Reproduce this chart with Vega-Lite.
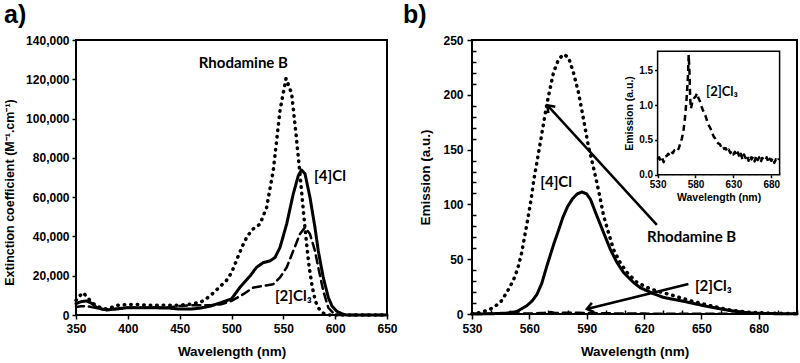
{
  "$schema": "https://vega.github.io/schema/vega-lite/v6.json",
  "background": "white",
  "padding": {"left": 2, "top": 2, "right": 0, "bottom": 0},
  "config": {
    "view": {"stroke": "black", "strokeWidth": 2},
    "axis": {"labelFont": "Liberation Sans", "labelFontWeight": "bold", "labelFontSize": 12, "labelColor": "black", "titleFont": "Liberation Sans", "titleFontWeight": "bold", "titleFontSize": 13.5, "titleColor": "black", "grid": false, "domain": false, "tickColor": "black", "tickWidth": 1.5, "labelOverlap": false, "labelBound": false, "labelFlush": false},
    "title": {"font": "Liberation Sans", "fontSize": 25, "fontWeight": "bold", "color": "black", "anchor": "start", "frame": "group", "baseline": "alphabetic"}
  },
  "datasets": {
    "abs": [
      {"wl": 350, "eps": 7500, "s": "Rhodamine B"}, {"wl": 353, "eps": 9500, "s": "Rhodamine B"}, {"wl": 357, "eps": 11400, "s": "Rhodamine B"}, {"wl": 360, "eps": 9500, "s": "Rhodamine B"}, {"wl": 365, "eps": 6500, "s": "Rhodamine B"}, {"wl": 370, "eps": 4500, "s": "Rhodamine B"}, {"wl": 375, "eps": 3500, "s": "Rhodamine B"}, {"wl": 380, "eps": 3000, "s": "Rhodamine B"}, {"wl": 385, "eps": 4000, "s": "Rhodamine B"}, {"wl": 390, "eps": 5000, "s": "Rhodamine B"}, {"wl": 400, "eps": 5300, "s": "Rhodamine B"}, {"wl": 410, "eps": 5300, "s": "Rhodamine B"}, {"wl": 420, "eps": 5000, "s": "Rhodamine B"}, {"wl": 430, "eps": 5000, "s": "Rhodamine B"}, {"wl": 440, "eps": 5000, "s": "Rhodamine B"}, {"wl": 450, "eps": 5000, "s": "Rhodamine B"}, {"wl": 460, "eps": 5500, "s": "Rhodamine B"}, {"wl": 470, "eps": 6500, "s": "Rhodamine B"}, {"wl": 475, "eps": 8000, "s": "Rhodamine B"}, {"wl": 480, "eps": 10000, "s": "Rhodamine B"}, {"wl": 485, "eps": 12500, "s": "Rhodamine B"}, {"wl": 490, "eps": 15000, "s": "Rhodamine B"}, {"wl": 495, "eps": 17500, "s": "Rhodamine B"}, {"wl": 500, "eps": 21500, "s": "Rhodamine B"}, {"wl": 506.6, "eps": 30150, "s": "Rhodamine B"}, {"wl": 510, "eps": 34500, "s": "Rhodamine B"}, {"wl": 514.6, "eps": 39500, "s": "Rhodamine B"}, {"wl": 520, "eps": 43500, "s": "Rhodamine B"}, {"wl": 527.5, "eps": 46300, "s": "Rhodamine B"}, {"wl": 533.9, "eps": 54800, "s": "Rhodamine B"}, {"wl": 540.3, "eps": 73600, "s": "Rhodamine B"}, {"wl": 546.8, "eps": 104200, "s": "Rhodamine B"}, {"wl": 552.6, "eps": 120400, "s": "Rhodamine B"}, {"wl": 558, "eps": 112800, "s": "Rhodamine B"}, {"wl": 562.2, "eps": 92300, "s": "Rhodamine B"}, {"wl": 566, "eps": 72000, "s": "Rhodamine B"}, {"wl": 569.5, "eps": 52000, "s": "Rhodamine B"}, {"wl": 572.5, "eps": 36000, "s": "Rhodamine B"}, {"wl": 575, "eps": 24000, "s": "Rhodamine B"}, {"wl": 578, "eps": 14000, "s": "Rhodamine B"}, {"wl": 581, "eps": 7000, "s": "Rhodamine B"}, {"wl": 584, "eps": 3500, "s": "Rhodamine B"}, {"wl": 587, "eps": 1500, "s": "Rhodamine B"}, {"wl": 590, "eps": 500, "s": "Rhodamine B"}, {"wl": 595, "eps": 0, "s": "Rhodamine B"}, {"wl": 620, "eps": 0, "s": "Rhodamine B"}, {"wl": 650, "eps": 0, "s": "Rhodamine B"},
      {"wl": 350, "eps": 5800, "s": "[4]Cl"}, {"wl": 355, "eps": 6800, "s": "[4]Cl"}, {"wl": 360, "eps": 7150, "s": "[4]Cl"}, {"wl": 365, "eps": 6000, "s": "[4]Cl"}, {"wl": 370, "eps": 3750, "s": "[4]Cl"}, {"wl": 375, "eps": 3000, "s": "[4]Cl"}, {"wl": 380, "eps": 2600, "s": "[4]Cl"}, {"wl": 390, "eps": 3200, "s": "[4]Cl"}, {"wl": 400, "eps": 3750, "s": "[4]Cl"}, {"wl": 420, "eps": 3750, "s": "[4]Cl"}, {"wl": 440, "eps": 3500, "s": "[4]Cl"}, {"wl": 450, "eps": 3000, "s": "[4]Cl"}, {"wl": 460, "eps": 3000, "s": "[4]Cl"}, {"wl": 470, "eps": 3500, "s": "[4]Cl"}, {"wl": 480, "eps": 4600, "s": "[4]Cl"}, {"wl": 490, "eps": 6300, "s": "[4]Cl"}, {"wl": 500, "eps": 8200, "s": "[4]Cl"}, {"wl": 508, "eps": 14000, "s": "[4]Cl"}, {"wl": 513, "eps": 17000, "s": "[4]Cl"}, {"wl": 518, "eps": 19900, "s": "[4]Cl"}, {"wl": 524, "eps": 24200, "s": "[4]Cl"}, {"wl": 530.7, "eps": 26700, "s": "[4]Cl"}, {"wl": 537, "eps": 27500, "s": "[4]Cl"}, {"wl": 542, "eps": 29300, "s": "[4]Cl"}, {"wl": 546.8, "eps": 34400, "s": "[4]Cl"}, {"wl": 553.2, "eps": 46300, "s": "[4]Cl"}, {"wl": 559.6, "eps": 61700, "s": "[4]Cl"}, {"wl": 564.5, "eps": 71000, "s": "[4]Cl"}, {"wl": 567.5, "eps": 73800, "s": "[4]Cl"}, {"wl": 570.9, "eps": 71900, "s": "[4]Cl"}, {"wl": 575.7, "eps": 59900, "s": "[4]Cl"}, {"wl": 580.5, "eps": 44600, "s": "[4]Cl"}, {"wl": 583.7, "eps": 32700, "s": "[4]Cl"}, {"wl": 588.5, "eps": 19100, "s": "[4]Cl"}, {"wl": 593.4, "eps": 8900, "s": "[4]Cl"}, {"wl": 597, "eps": 4500, "s": "[4]Cl"}, {"wl": 601.4, "eps": 2000, "s": "[4]Cl"}, {"wl": 606, "eps": 700, "s": "[4]Cl"}, {"wl": 611, "eps": 0, "s": "[4]Cl"}, {"wl": 650, "eps": 0, "s": "[4]Cl"},
      {"wl": 350, "eps": 4100, "s": "[2]Cl3"}, {"wl": 355, "eps": 4400, "s": "[2]Cl3"}, {"wl": 360, "eps": 4600, "s": "[2]Cl3"}, {"wl": 365, "eps": 4000, "s": "[2]Cl3"}, {"wl": 370, "eps": 3500, "s": "[2]Cl3"}, {"wl": 380, "eps": 2600, "s": "[2]Cl3"}, {"wl": 390, "eps": 3000, "s": "[2]Cl3"}, {"wl": 400, "eps": 3750, "s": "[2]Cl3"}, {"wl": 420, "eps": 3750, "s": "[2]Cl3"}, {"wl": 440, "eps": 3900, "s": "[2]Cl3"}, {"wl": 450, "eps": 4600, "s": "[2]Cl3"}, {"wl": 460, "eps": 5000, "s": "[2]Cl3"}, {"wl": 470, "eps": 5000, "s": "[2]Cl3"}, {"wl": 480, "eps": 5000, "s": "[2]Cl3"}, {"wl": 490, "eps": 5450, "s": "[2]Cl3"}, {"wl": 500, "eps": 7150, "s": "[2]Cl3"}, {"wl": 511.4, "eps": 10600, "s": "[2]Cl3"}, {"wl": 521, "eps": 13950, "s": "[2]Cl3"}, {"wl": 530.7, "eps": 14800, "s": "[2]Cl3"}, {"wl": 540.3, "eps": 15700, "s": "[2]Cl3"}, {"wl": 546.8, "eps": 19100, "s": "[2]Cl3"}, {"wl": 553.2, "eps": 24200, "s": "[2]Cl3"}, {"wl": 559.6, "eps": 32700, "s": "[2]Cl3"}, {"wl": 566, "eps": 41200, "s": "[2]Cl3"}, {"wl": 570.9, "eps": 44600, "s": "[2]Cl3"}, {"wl": 575.7, "eps": 41200, "s": "[2]Cl3"}, {"wl": 580.5, "eps": 32700, "s": "[2]Cl3"}, {"wl": 583.7, "eps": 24200, "s": "[2]Cl3"}, {"wl": 588.5, "eps": 12300, "s": "[2]Cl3"}, {"wl": 593.4, "eps": 3700, "s": "[2]Cl3"}, {"wl": 598.2, "eps": 1000, "s": "[2]Cl3"}, {"wl": 603, "eps": 0, "s": "[2]Cl3"}, {"wl": 650, "eps": 0, "s": "[2]Cl3"}
    ],
    "em": [
      {"wl": 530, "em": 0.3, "s": "Rhodamine B"}, {"wl": 535, "em": 1.5, "s": "Rhodamine B"}, {"wl": 541, "em": 5.5, "s": "Rhodamine B"}, {"wl": 545, "em": 11, "s": "Rhodamine B"}, {"wl": 548.3, "em": 20, "s": "Rhodamine B"}, {"wl": 551.7, "em": 31, "s": "Rhodamine B"}, {"wl": 554, "em": 42, "s": "Rhodamine B"}, {"wl": 556, "em": 56, "s": "Rhodamine B"}, {"wl": 558.5, "em": 80, "s": "Rhodamine B"}, {"wl": 560.5, "em": 100, "s": "Rhodamine B"}, {"wl": 562.5, "em": 124, "s": "Rhodamine B"}, {"wl": 565.7, "em": 156, "s": "Rhodamine B"}, {"wl": 569.2, "em": 192, "s": "Rhodamine B"}, {"wl": 572.6, "em": 220, "s": "Rhodamine B"}, {"wl": 575.2, "em": 232, "s": "Rhodamine B"}, {"wl": 577.9, "em": 237, "s": "Rhodamine B"}, {"wl": 580.5, "em": 234, "s": "Rhodamine B"}, {"wl": 583.1, "em": 220, "s": "Rhodamine B"}, {"wl": 585.7, "em": 202, "s": "Rhodamine B"}, {"wl": 588.3, "em": 178, "s": "Rhodamine B"}, {"wl": 590.9, "em": 153, "s": "Rhodamine B"}, {"wl": 593.5, "em": 134, "s": "Rhodamine B"}, {"wl": 595.3, "em": 120, "s": "Rhodamine B"}, {"wl": 597, "em": 106, "s": "Rhodamine B"}, {"wl": 598.8, "em": 90, "s": "Rhodamine B"}, {"wl": 601.4, "em": 74, "s": "Rhodamine B"}, {"wl": 604, "em": 59, "s": "Rhodamine B"}, {"wl": 607.5, "em": 47, "s": "Rhodamine B"}, {"wl": 611, "em": 38, "s": "Rhodamine B"}, {"wl": 616.2, "em": 29, "s": "Rhodamine B"}, {"wl": 621.4, "em": 24.3, "s": "Rhodamine B"}, {"wl": 626.6, "em": 21, "s": "Rhodamine B"}, {"wl": 635.3, "em": 16.8, "s": "Rhodamine B"}, {"wl": 644, "em": 12.2, "s": "Rhodamine B"}, {"wl": 654.5, "em": 7.6, "s": "Rhodamine B"}, {"wl": 665, "em": 3.6, "s": "Rhodamine B"}, {"wl": 675.4, "em": 1.5, "s": "Rhodamine B"}, {"wl": 685, "em": 0.8, "s": "Rhodamine B"}, {"wl": 700, "em": 0.3, "s": "Rhodamine B"},
      {"wl": 530, "em": 0, "s": "[4]Cl"}, {"wl": 540, "em": 0.2, "s": "[4]Cl"}, {"wl": 548, "em": 0.8, "s": "[4]Cl"}, {"wl": 553.5, "em": 2.2, "s": "[4]Cl"}, {"wl": 558.7, "em": 7.6, "s": "[4]Cl"}, {"wl": 561.5, "em": 12, "s": "[4]Cl"}, {"wl": 564, "em": 18, "s": "[4]Cl"}, {"wl": 566.5, "em": 28, "s": "[4]Cl"}, {"wl": 569.2, "em": 44, "s": "[4]Cl"}, {"wl": 571, "em": 54, "s": "[4]Cl"}, {"wl": 573, "em": 65, "s": "[4]Cl"}, {"wl": 575, "em": 75, "s": "[4]Cl"}, {"wl": 577.5, "em": 88, "s": "[4]Cl"}, {"wl": 580, "em": 98, "s": "[4]Cl"}, {"wl": 582.5, "em": 105, "s": "[4]Cl"}, {"wl": 585, "em": 109.5, "s": "[4]Cl"}, {"wl": 587.5, "em": 111.3, "s": "[4]Cl"}, {"wl": 590, "em": 109.5, "s": "[4]Cl"}, {"wl": 592, "em": 104.5, "s": "[4]Cl"}, {"wl": 595.3, "em": 89.6, "s": "[4]Cl"}, {"wl": 598.8, "em": 74.4, "s": "[4]Cl"}, {"wl": 602.3, "em": 59.2, "s": "[4]Cl"}, {"wl": 605.8, "em": 47.1, "s": "[4]Cl"}, {"wl": 609.2, "em": 38, "s": "[4]Cl"}, {"wl": 614.4, "em": 28.9, "s": "[4]Cl"}, {"wl": 618, "em": 24, "s": "[4]Cl"}, {"wl": 621.4, "em": 21.3, "s": "[4]Cl"}, {"wl": 625, "em": 18.5, "s": "[4]Cl"}, {"wl": 630, "em": 15.2, "s": "[4]Cl"}, {"wl": 640.6, "em": 11.6, "s": "[4]Cl"}, {"wl": 652.8, "em": 7, "s": "[4]Cl"}, {"wl": 665, "em": 3.1, "s": "[4]Cl"}, {"wl": 675, "em": 1, "s": "[4]Cl"}, {"wl": 685, "em": 0.4, "s": "[4]Cl"}, {"wl": 700, "em": 0.1, "s": "[4]Cl"},
      {"wl": 530, "em": 0.22, "s": "[2]Cl3"}, {"wl": 532, "em": 0.25, "s": "[2]Cl3"}, {"wl": 534, "em": 0.2, "s": "[2]Cl3"}, {"wl": 536, "em": 0.24, "s": "[2]Cl3"}, {"wl": 538, "em": 0.18, "s": "[2]Cl3"}, {"wl": 540, "em": 0.26, "s": "[2]Cl3"}, {"wl": 542, "em": 0.27, "s": "[2]Cl3"}, {"wl": 544, "em": 0.3, "s": "[2]Cl3"}, {"wl": 546, "em": 0.28, "s": "[2]Cl3"}, {"wl": 548, "em": 0.33, "s": "[2]Cl3"}, {"wl": 550, "em": 0.31, "s": "[2]Cl3"}, {"wl": 552, "em": 0.35, "s": "[2]Cl3"}, {"wl": 554, "em": 0.36, "s": "[2]Cl3"}, {"wl": 556, "em": 0.34, "s": "[2]Cl3"}, {"wl": 558, "em": 0.38, "s": "[2]Cl3"}, {"wl": 560, "em": 0.45, "s": "[2]Cl3"}, {"wl": 562, "em": 0.52, "s": "[2]Cl3"}, {"wl": 564, "em": 0.62, "s": "[2]Cl3"}, {"wl": 566, "em": 0.8, "s": "[2]Cl3"}, {"wl": 568, "em": 1.05, "s": "[2]Cl3"}, {"wl": 570, "em": 1.4, "s": "[2]Cl3"}, {"wl": 571, "em": 1.72, "s": "[2]Cl3"}, {"wl": 572, "em": 1.5, "s": "[2]Cl3"}, {"wl": 573, "em": 1.1, "s": "[2]Cl3"}, {"wl": 574, "em": 0.95, "s": "[2]Cl3"}, {"wl": 576, "em": 1.05, "s": "[2]Cl3"}, {"wl": 578, "em": 1.1, "s": "[2]Cl3"}, {"wl": 580, "em": 1.12, "s": "[2]Cl3"}, {"wl": 582, "em": 1.17, "s": "[2]Cl3"}, {"wl": 584, "em": 1.1, "s": "[2]Cl3"}, {"wl": 586, "em": 1.05, "s": "[2]Cl3"}, {"wl": 588, "em": 0.98, "s": "[2]Cl3"}, {"wl": 590, "em": 0.92, "s": "[2]Cl3"}, {"wl": 592, "em": 0.88, "s": "[2]Cl3"}, {"wl": 594, "em": 0.82, "s": "[2]Cl3"}, {"wl": 596, "em": 0.75, "s": "[2]Cl3"}, {"wl": 598, "em": 0.7, "s": "[2]Cl3"}, {"wl": 600, "em": 0.66, "s": "[2]Cl3"}, {"wl": 602, "em": 0.6, "s": "[2]Cl3"}, {"wl": 604, "em": 0.55, "s": "[2]Cl3"}, {"wl": 606, "em": 0.52, "s": "[2]Cl3"}, {"wl": 608, "em": 0.47, "s": "[2]Cl3"}, {"wl": 610, "em": 0.45, "s": "[2]Cl3"}, {"wl": 612, "em": 0.44, "s": "[2]Cl3"}, {"wl": 614, "em": 0.4, "s": "[2]Cl3"}, {"wl": 616, "em": 0.42, "s": "[2]Cl3"}, {"wl": 618, "em": 0.37, "s": "[2]Cl3"}, {"wl": 620, "em": 0.38, "s": "[2]Cl3"}, {"wl": 622, "em": 0.33, "s": "[2]Cl3"}, {"wl": 624, "em": 0.36, "s": "[2]Cl3"}, {"wl": 626, "em": 0.31, "s": "[2]Cl3"}, {"wl": 628, "em": 0.34, "s": "[2]Cl3"}, {"wl": 630, "em": 0.29, "s": "[2]Cl3"}, {"wl": 632, "em": 0.33, "s": "[2]Cl3"}, {"wl": 634, "em": 0.27, "s": "[2]Cl3"}, {"wl": 636, "em": 0.32, "s": "[2]Cl3"}, {"wl": 638, "em": 0.25, "s": "[2]Cl3"}, {"wl": 640, "em": 0.3, "s": "[2]Cl3"}, {"wl": 642, "em": 0.22, "s": "[2]Cl3"}, {"wl": 644, "em": 0.29, "s": "[2]Cl3"}, {"wl": 646, "em": 0.24, "s": "[2]Cl3"}, {"wl": 648, "em": 0.28, "s": "[2]Cl3"}, {"wl": 650, "em": 0.2, "s": "[2]Cl3"}, {"wl": 652, "em": 0.27, "s": "[2]Cl3"}, {"wl": 654, "em": 0.22, "s": "[2]Cl3"}, {"wl": 656, "em": 0.26, "s": "[2]Cl3"}, {"wl": 658, "em": 0.19, "s": "[2]Cl3"}, {"wl": 660, "em": 0.27, "s": "[2]Cl3"}, {"wl": 662, "em": 0.21, "s": "[2]Cl3"}, {"wl": 664, "em": 0.25, "s": "[2]Cl3"}, {"wl": 666, "em": 0.18, "s": "[2]Cl3"}, {"wl": 668, "em": 0.24, "s": "[2]Cl3"}, {"wl": 670, "em": 0.22, "s": "[2]Cl3"}, {"wl": 672, "em": 0.2, "s": "[2]Cl3"}, {"wl": 674, "em": 0.25, "s": "[2]Cl3"}, {"wl": 676, "em": 0.18, "s": "[2]Cl3"}, {"wl": 678, "em": 0.23, "s": "[2]Cl3"}, {"wl": 680, "em": 0.2, "s": "[2]Cl3"}, {"wl": 682, "em": 0.24, "s": "[2]Cl3"}, {"wl": 684, "em": 0.17, "s": "[2]Cl3"}, {"wl": 686, "em": 0.22, "s": "[2]Cl3"}, {"wl": 688, "em": 0.19, "s": "[2]Cl3"}, {"wl": 690, "em": 0.23, "s": "[2]Cl3"}
    ],
    "labelsA": [
      {"wl": 511.4, "eps": 128100, "label": "Rhodamine B"},
      {"wl": 595, "eps": 71000, "label": "[4]Cl"},
      {"wl": 559.6, "eps": 9700, "label": "[2]Cl₃"}
    ],
    "labelsB": [
      {"wl": 574, "em": 120, "label": "[4]Cl"},
      {"wl": 644.9, "em": 69.9, "label": "Rhodamine B"},
      {"wl": 656.2, "em": 25.9, "label": "[2]Cl₃"}
    ],
    "labelsInset": [
      {"wl": 615, "em": 1.19, "label": "[2]Cl₃"}
    ],
    "arrows": [
      {"id": "rb", "from_wl": 626.7, "from_em": 81.4, "to_wl": 569.5, "to_em": 190.4},
      {"id": "cl3", "from_wl": 643.2, "from_em": 27.3, "to_wl": 590.1, "to_em": 4.6}
    ]
  },
  "bounds": "flush",
  "spacing": 85,
  "hconcat": [
    {
      "title": {"text": "a)", "dx": -72, "offset": 6},
      "width": 311,
      "height": 275,
      "layer": [
        {
          "data": {"name": "abs"},
          "mark": {"type": "line", "color": "black", "strokeCap": "round", "strokeJoin": "round"},
          "encoding": {
            "x": {"field": "wl", "type": "quantitative", "scale": {"domain": [350, 650], "nice": false}, "axis": {"values": [350, 400, 450, 500, 550, 600, 650], "tickCount": 1000, "format": "d", "title": "Wavelength (nm)", "tickSize": 4, "labelPadding": 4, "titlePadding": 10}},
            "y": {"field": "eps", "type": "quantitative", "scale": {"domain": [0, 140000], "nice": false}, "axis": {"values": [0, 20000, 40000, 60000, 80000, 100000, 120000, 140000], "tickCount": 1000, "format": ",d", "title": "Extinction coefficient (M⁻¹.cm⁻¹)", "titleFontSize": 12.5, "titleY": 152, "tickSize": 4, "labelPadding": 3, "titlePadding": 9}},
            "strokeDash": {"field": "s", "type": "nominal", "scale": {"domain": ["Rhodamine B", "[4]Cl", "[2]Cl3"], "range": [[0.5, 6], [1, 0], [8, 5]]}, "legend": null},
            "strokeWidth": {"field": "s", "type": "nominal", "scale": {"domain": ["Rhodamine B", "[4]Cl", "[2]Cl3"], "range": [3.5, 2.5, 2.5]}, "legend": null}
          }
        },
        {
          "data": {"name": "labelsA"},
          "mark": {"type": "text", "font": "Lato", "fontWeight": "bold", "fontSize": 15, "color": "black", "align": "center", "baseline": "middle"},
          "encoding": {
            "x": {"field": "wl", "type": "quantitative"},
            "y": {"field": "eps", "type": "quantitative"},
            "text": {"field": "label"}
          }
        }
      ]
    },
    {
      "title": {"text": "b)", "dx": -69, "offset": 6},
      "width": 325,
      "height": 274,
      "resolve": {"scale": {"x": "independent", "y": "independent"}},
      "layer": [
        {
          "layer": [
            {
              "data": {"name": "em"},
              "mark": {"type": "line", "color": "black", "strokeCap": "round", "strokeJoin": "round"},
              "encoding": {
                "x": {"field": "wl", "type": "quantitative", "scale": {"domain": [530, 700], "nice": false}, "axis": {"values": [530, 540, 550, 560, 570, 580, 590, 600, 610, 620, 630, 640, 650, 660, 670, 680, 690, 700], "tickCount": 1000, "format": "d", "labelExpr": "(datum.value - 530) % 30 === 0 ? datum.label : ''", "title": "Wavelength (nm)", "tickSize": {"condition": {"test": "(datum.value - 530) % 30 === 0", "value": 5}, "value": -4}, "labelPadding": 4, "titlePadding": 10}},
                "y": {"field": "em", "type": "quantitative", "scale": {"domain": [0, 250], "nice": false}, "axis": {"values": [0, 10, 20, 30, 40, 50, 60, 70, 80, 90, 100, 110, 120, 130, 140, 150, 160, 170, 180, 190, 200, 210, 220, 230, 240, 250], "tickCount": 1000, "format": "d", "labelExpr": "datum.value % 50 === 0 ? datum.label : ''", "title": "Emission (a.u.)", "tickSize": {"condition": {"test": "datum.value % 50 === 0", "value": 5}, "value": -4}, "labelPadding": 4, "titlePadding": 10}},
                "strokeDash": {"field": "s", "type": "nominal", "scale": {"domain": ["Rhodamine B", "[4]Cl", "[2]Cl3"], "range": [[0.5, 6.5], [1, 0], [7, 5]]}, "legend": null},
                "strokeWidth": {"field": "s", "type": "nominal", "scale": {"domain": ["Rhodamine B", "[4]Cl", "[2]Cl3"], "range": [3.5, 2.5, 2.5]}, "legend": null}
              }
            },
            {
              "data": {"name": "labelsB"},
              "mark": {"type": "text", "font": "Lato", "fontWeight": "bold", "fontSize": 15, "color": "black", "align": "center", "baseline": "middle"},
              "encoding": {
                "x": {"field": "wl", "type": "quantitative"},
                "y": {"field": "em", "type": "quantitative"},
                "text": {"field": "label"}
              }
            },
            {
              "data": {"name": "arrows"},
              "mark": {"type": "rule", "color": "black", "strokeWidth": 2.5},
              "encoding": {
                "x": {"field": "from_wl", "type": "quantitative"},
                "y": {"field": "from_em", "type": "quantitative"},
                "x2": {"field": "to_wl"},
                "y2": {"field": "to_em"}
              }
            },
            {
              "data": {"name": "arrows"},
              "transform": [{"filter": "datum.id === 'rb'"}],
              "mark": {"type": "point", "shape": "M-0.6,0.8L0,0L0.6,0.8", "filled": false, "color": "black", "strokeWidth": 2.5, "size": 250, "angle": 317.5, "opacity": 1},
              "encoding": {
                "x": {"field": "to_wl", "type": "quantitative"},
                "y": {"field": "to_em", "type": "quantitative"}
              }
            },
            {
              "data": {"name": "arrows"},
              "transform": [{"filter": "datum.id === 'cl3'"}],
              "mark": {"type": "point", "shape": "M-0.6,0.8L0,0L0.6,0.8", "filled": false, "color": "black", "strokeWidth": 2.5, "size": 250, "angle": 256.2, "opacity": 1},
              "encoding": {
                "x": {"field": "to_wl", "type": "quantitative"},
                "y": {"field": "to_em", "type": "quantitative"}
              }
            }
          ]
        },
        {
          "layer": [
            {
              "data": {"values": [{}]},
              "mark": {"type": "rect", "fill": "white", "stroke": "black", "strokeWidth": 1.5},
              "encoding": {
                "x": {"datum": 530, "type": "quantitative", "scale": {"domain": [530, 691], "range": [185.6, 307.6], "nice": false}, "axis": {"orient": "bottom", "offset": -139.3, "values": [530, 540, 550, 560, 570, 580, 590, 600, 610, 620, 630, 640, 650, 660, 670, 680, 690], "tickCount": 1000, "format": "d", "labelExpr": "(datum.value - 530) % 50 === 0 ? datum.label : ''", "tickSize": {"condition": {"test": "(datum.value - 530) % 50 === 0", "value": 3}, "value": -3}, "title": "Wavelength (nm)", "labelFontSize": 10, "titleFontSize": 10.5, "labelPadding": 2, "titlePadding": 3}},
                "x2": {"datum": 691},
                "y": {"datum": 0, "type": "quantitative", "scale": {"domain": [0, 1.773], "range": [134.7, 11.3], "nice": false, "zero": false}, "axis": {"orient": "left", "offset": -185.6, "values": [0, 0.5, 1, 1.5], "tickCount": 1000, "format": ".1f", "title": "Emission (a.u.)", "tickSize": 3, "labelFontSize": 10, "titleFontSize": 10.5, "labelPadding": 2, "titlePadding": 4}},
                "y2": {"datum": 1.773}
              }
            },
            {
              "data": {"name": "em"},
              "transform": [{"filter": "datum.s === '[2]Cl3'"}],
              "mark": {"type": "line", "color": "black", "strokeWidth": 2.5, "strokeDash": [6, 4], "strokeJoin": "round"},
              "encoding": {
                "x": {"field": "wl", "type": "quantitative"},
                "y": {"field": "em", "type": "quantitative"}
              }
            },
            {
              "data": {"name": "labelsInset"},
              "mark": {"type": "text", "font": "Lato", "fontWeight": "bold", "fontSize": 13, "color": "black", "align": "center", "baseline": "middle"},
              "encoding": {
                "x": {"field": "wl", "type": "quantitative"},
                "y": {"field": "em", "type": "quantitative"},
                "text": {"field": "label"}
              }
            }
          ]
        }
      ]
    }
  ]
}
